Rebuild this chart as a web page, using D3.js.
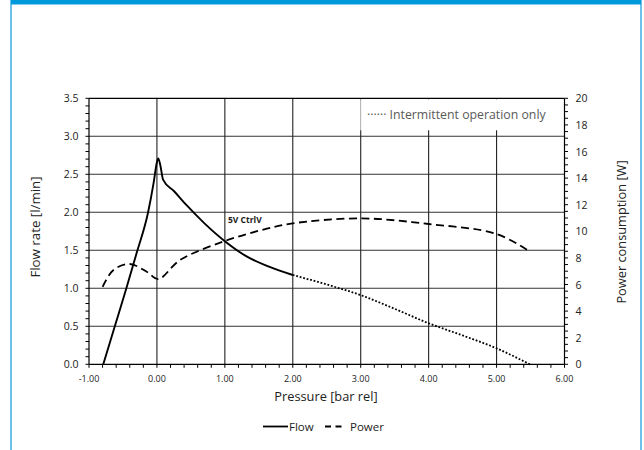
<!DOCTYPE html>
<html><head><meta charset="utf-8">
<script src="https://cdn.jsdelivr.net/npm/d3@7"></script>
<style>body{margin:0;background:#fff}svg{display:block;font-family:"Open Sans",Lato,sans-serif}</style>
</head><body><svg id="c" width="644" height="450"></svg>
<script>
// Data
const flowSolidP = [-0.79,-0.62,-0.45,-0.30,-0.13,-0.05,0.0,0.02,0.05,0.09,0.25,0.44,0.7,1.0,1.32,1.65,2.0];
const flowSolidV = [0,0.5,1.0,1.46,2.0,2.38,2.66,2.71,2.62,2.43,2.28,2.09,1.855,1.62,1.42,1.285,1.175];
const flowDotP = [2.0,2.5,3.0,3.5,4.0,4.5,5.0,5.49];
const flowDotV = [1.175,1.05,0.91,0.73,0.54,0.38,0.21,0.0];
const powerP = [-0.80,-0.64,-0.40,-0.15,0.02,0.34,1.0,1.62,2.0,3.0,4.0,5.0,5.49];
const powerV = [5.83,7.09,7.54,6.96,6.41,7.84,9.27,10.2,10.6,10.97,10.55,9.8,8.47];
const xTicks = [-1,0,1,2,3,4,5,6];
const yLeftTicks = [0,0.5,1,1.5,2,2.5,3,3.5];
const yRightTicks = [0,2,4,6,8,10,12,14,16,18,20];

const svg = d3.select("#c");
// frame
svg.append("rect").attr("x",10).attr("y",0).attr("width",2).attr("height",450).attr("fill","#6cc0ea");
svg.append("rect").attr("x",640).attr("y",0).attr("width",2).attr("height",450).attr("fill","#6cc0ea");
svg.append("rect").attr("x",11).attr("y",0).attr("width",630).attr("height",4.5).attr("fill","#0099dc");

const L=89, R=564.5, T=98.3, B=364.3;
const x = d3.scaleLinear().domain([-1,6]).range([L,R]);
const yL = d3.scaleLinear().domain([0,3.5]).range([B,T]);
const yR = d3.scaleLinear().domain([0,20]).range([B,T]);

const g = svg.append("g");
// grid
g.selectAll(".hg").data(yLeftTicks.filter(d=>d>0&&d<3.5)).enter().append("line")
 .attr("x1",L).attr("x2",R).attr("y1",d=>yL(d)).attr("y2",d=>yL(d)).attr("stroke","#333").attr("stroke-width",1.1);
g.selectAll(".vg").data(xTicks.filter(d=>d>-1&&d<6)).enter().append("line")
 .attr("x1",d=>x(d)).attr("x2",d=>x(d)).attr("y1",T).attr("y2",B).attr("stroke","#222").attr("stroke-width",1.1);

// legend box top right
g.append("rect").attr("x",x(3)).attr("y",T+1).attr("width",R-x(3)-1).attr("height",31).attr("fill","#fff");
g.append("line").attr("x1",x(3)).attr("x2",x(3)).attr("y1",T+1).attr("y2",T+32).attr("stroke","#c8c8c8");
g.append("text").attr("x",367).attr("y",118.5).attr("font-size",12.3).attr("fill","#595959").text("······ Intermittent operation only");

// axes lines
g.append("line").attr("x1",L).attr("x2",R).attr("y1",T).attr("y2",T).attr("stroke","#000").attr("stroke-width",1.2);
g.append("line").attr("x1",L).attr("x2",R).attr("y1",B).attr("y2",B).attr("stroke","#000").attr("stroke-width",1.2);
g.append("line").attr("x1",L).attr("x2",L).attr("y1",T).attr("y2",B).attr("stroke","#000").attr("stroke-width",1.2);
g.append("line").attr("x1",R).attr("x2",R).attr("y1",T).attr("y2",B).attr("stroke","#000").attr("stroke-width",1.2);

// ticks
const xMinor = d3.range(-1,6.001,0.2);
g.selectAll(".xt").data(xMinor).enter().append("line").attr("x1",d=>x(d)).attr("x2",d=>x(d)).attr("y1",B).attr("y2",B+3.5).attr("stroke","#000");
const yLMinor = d3.range(0,3.501,0.1);
g.selectAll(".ylt").data(yLMinor).enter().append("line").attr("y1",d=>yL(d)).attr("y2",d=>yL(d)).attr("x1",L-3.5).attr("x2",L).attr("stroke","#000");
const yRMinor = d3.range(0,20.01,0.5);
g.selectAll(".yrt").data(yRMinor).enter().append("line").attr("y1",d=>yR(d)).attr("y2",d=>yR(d)).attr("x1",R).attr("x2",R+3.5).attr("stroke","#000");

// tick labels
const fx = d=>d3.format(".2f")(d).replace("\u2212","-");
g.selectAll(".xl").data(xTicks).enter().append("text").attr("x",d=>x(d)).attr("y",381.5).attr("text-anchor","middle")
 .attr("font-size",9).attr("fill","#222").text(fx);
g.selectAll(".yll").data(yLeftTicks).enter().append("text").attr("x",78.5).attr("y",d=>yL(d)+4).attr("text-anchor","end")
 .attr("font-size",10.5).attr("fill","#222").text(d=>d3.format(".1f")(d));
g.selectAll(".yrl").data(yRightTicks).enter().append("text").attr("x",575.5).attr("y",d=>yR(d)+4).attr("text-anchor","start")
 .attr("font-size",10.5).attr("fill","#222").text(d=>d);

// axis titles
g.append("text").attr("transform","translate(40,227) rotate(-90)").attr("text-anchor","middle").attr("font-size",13.3).attr("fill","#222").text("Flow rate [l/min]");
g.append("text").attr("transform","translate(626,232) rotate(-90)").attr("text-anchor","middle").attr("font-size",12.8).attr("fill","#222").text("Power consumption [W]");
g.append("text").attr("x",326).attr("y",401).attr("text-anchor","middle").attr("font-size",12.8).attr("fill","#222").text("Pressure [bar rel]");

// series
const lineL = d3.line().x(d=>x(d[0])).y(d=>yL(d[1])).curve(d3.curveMonotoneX);
const lineR = d3.line().x(d=>x(d[0])).y(d=>yR(d[1])).curve(d3.curveCatmullRom.alpha(0.5));
const zip=(a,b)=>a.map((v,i)=>[v,b[i]]);
g.append("path").attr("d",lineR(zip(powerP,powerV))).attr("fill","none").attr("stroke","#000").attr("stroke-width",1.8).attr("stroke-dasharray","8,4.5");
g.append("path").attr("d",lineL(zip(flowSolidP,flowSolidV))).attr("fill","none").attr("stroke","#000").attr("stroke-width",1.9);
g.append("path").attr("d",lineL(zip(flowDotP,flowDotV))).attr("fill","none").attr("stroke","#000").attr("stroke-width",1.8).attr("stroke-dasharray","1.8,1.8");

g.append("text").attr("x",228).attr("y",223).attr("font-size",8.5).attr("font-weight","bold").attr("fill","#222").text("5V CtrlV");

// bottom legend
const lg = svg.append("g");
lg.append("line").attr("x1",263).attr("x2",288).attr("y1",426.5).attr("y2",426.5).attr("stroke","#000").attr("stroke-width",1.8);
lg.append("text").attr("x",289).attr("y",431).attr("font-size",11.5).attr("fill","#222").text("Flow");
lg.append("line").attr("x1",325).attr("x2",344).attr("y1",426.5).attr("y2",426.5).attr("stroke","#000").attr("stroke-width",1.8).attr("stroke-dasharray","6,4.5");
lg.append("text").attr("x",350).attr("y",431).attr("font-size",11.5).attr("fill","#222").text("Power");
</script></body></html>
